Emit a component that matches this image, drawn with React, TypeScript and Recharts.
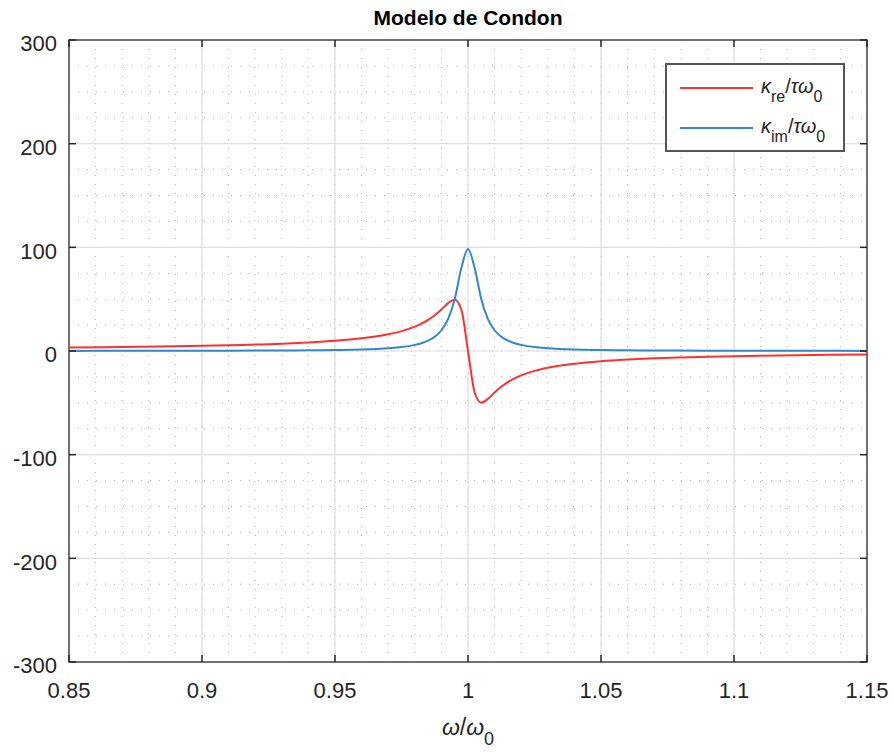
import React from 'react';
import { LineChart, Line, XAxis, YAxis, CartesianGrid, ReferenceArea } from 'recharts';

// frequencia normalizada w/w0
const omega = [
  0.85, 0.87, 0.89, 0.91, 0.93, 0.94, 0.95, 0.96, 0.97, 0.975, 0.98, 0.9825, 0.985, 0.9875, 0.99,
  0.9925, 0.995, 0.9975, 1.0, 1.0025, 1.005, 1.0075, 1.01, 1.0125, 1.015, 1.0175, 1.02, 1.025,
  1.03, 1.04, 1.05, 1.06, 1.07, 1.09, 1.11, 1.13, 1.15,
];
const kRe = [
  3.3, 3.8, 4.5, 5.5, 7.1, 8.3, 9.9, 12.3, 16.2, 19.2, 23.5, 26.4, 30, 34.5, 40,
  46.2, 49.5, 40, 0, -40, -49.8, -46.2, -40, -34.5, -30, -26.4, -23.5, -19.2,
  -16.2, -12.3, -9.9, -8.3, -7.1, -5.5, -4.5, -3.8, -3.3,
];
const kIm = [
  0.1, 0.15, 0.2, 0.3, 0.5, 0.7, 1.0, 1.5, 2.7, 3.8, 5.9, 7.5, 10, 13.8, 20,
  30.8, 50, 80, 98.5, 80, 50, 30.8, 20, 13.8, 10, 7.5, 5.9, 3.8,
  2.7, 1.5, 1.0, 0.7, 0.5, 0.3, 0.2, 0.15, 0.1,
];

const xTicks = [0.85, 0.9, 0.95, 1, 1.05, 1.1, 1.15];
const xTickLabels = ['0.85', '0.9', '0.95', '1', '1.05', '1.1', '1.15'];
const yTicks = [-300, -200, -100, 0, 100, 200, 300];

const W = 894;
const H = 753;
const LEFT = 69;
const RIGHT = 867;
const TOP = 40;
const BOTTOM = 662;
const FONT = '"Liberation Sans", Arial, Helvetica, sans-serif';
const TXT = '#262626';
const RED = '#ff3030';
const BLUE = '#3388cc';

const data = omega.map((w, i) => ({ w, re: kRe[i], im: kIm[i] }));

const xMinor: number[] = [];
for (let i = 0; i <= 30; i++) xMinor.push(Math.round((0.85 + i * 0.01) * 1000) / 1000);
const yMinor: number[] = [];
for (let v = -300; v <= 300; v += 25) yMinor.push(v);

const XTick = (props: any) => {
  const { x, payload } = props;
  const idx = xTicks.indexOf(payload.value);
  return (
    <g>
      <line x1={x} x2={x} y1={BOTTOM} y2={BOTTOM - 7} stroke={TXT} strokeWidth={1.5} />
      <line x1={x} x2={x} y1={TOP} y2={TOP + 7} stroke={TXT} strokeWidth={1.5} />
      <text x={x} y={BOTTOM + 20} dy="0.71em" textAnchor="middle" fill={TXT} fontSize={22} fontFamily={FONT}>
        {idx >= 0 ? xTickLabels[idx] : payload.value}
      </text>
    </g>
  );
};

const YTick = (props: any) => {
  const { y, payload } = props;
  return (
    <g>
      <line x1={LEFT} x2={LEFT + 7} y1={y} y2={y} stroke={TXT} strokeWidth={1.5} />
      <line x1={RIGHT} x2={RIGHT - 7} y1={y} y2={y} stroke={TXT} strokeWidth={1.5} />
      <text x={LEFT - 12} y={y} dy="0.52em" textAnchor="end" fill={TXT} fontSize={22} fontFamily={FONT}>
        {payload.value}
      </text>
    </g>
  );
};

const subStyle: React.CSSProperties = { fontSize: 16, verticalAlign: '-9px', lineHeight: 0 };

const LegendLabel = ({ sub }: { sub: string }) => (
  <span style={{ fontSize: 20, color: TXT, fontFamily: FONT, whiteSpace: 'nowrap', lineHeight: '22px' }}>
    <i>κ</i>
    <span style={subStyle}>{sub}</span>
    /<i>τω</i>
    <span style={subStyle}>0</span>
  </span>
);

export default function App() {
  return (
    <div style={{ position: 'absolute', left: 0, top: 0, width: W, height: H, background: '#fff' }}>
      <LineChart
        width={W}
        height={H}
        data={data}
        margin={{ top: TOP, right: W - RIGHT, left: 0, bottom: 0 }}
      >
        <CartesianGrid
          verticalValues={xMinor}
          horizontalValues={yMinor}
          stroke="#b0b0b0"
          strokeDasharray="1 8"
          strokeWidth={1}
        />
        <CartesianGrid
          verticalValues={xTicks}
          horizontalValues={yTicks}
          stroke="#dedede"
          strokeWidth={1.2}
        />
        <XAxis
          dataKey="w"
          type="number"
          domain={[0.85, 1.15]}
          ticks={xTicks}
          allowDataOverflow
          height={H - BOTTOM}
          axisLine={false}
          tickLine={false}
          tickSize={0}
          tick={<XTick />}
          interval={0}
        />
        <YAxis
          type="number"
          domain={[-300, 300]}
          ticks={yTicks}
          allowDataOverflow
          width={LEFT}
          axisLine={false}
          tickLine={false}
          tickSize={0}
          tick={<YTick />}
          interval={0}
        />
        <Line type="monotone" dataKey="re" stroke={RED} strokeWidth={2} dot={false} isAnimationActive={false} />
        <Line type="monotone" dataKey="im" stroke={BLUE} strokeWidth={2} dot={false} isAnimationActive={false} />
        <ReferenceArea
          x1={0.85}
          x2={1.15}
          y1={-300}
          y2={300}
          fill="none"
          fillOpacity={0}
          stroke="#4a4a4a"
          strokeWidth={1.5}
          ifOverflow="visible"
        />
      </LineChart>

      <div
        style={{
          position: 'absolute',
          left: LEFT,
          width: RIGHT - LEFT,
          top: 6,
          textAlign: 'center',
          fontFamily: FONT,
          fontWeight: 'bold',
          fontSize: 21,
          lineHeight: '24px',
          color: '#000',
        }}
      >
        Modelo de Condon
      </div>

      <div
        style={{
          position: 'absolute',
          left: LEFT,
          width: RIGHT - LEFT,
          top: 714,
          textAlign: 'center',
          fontFamily: FONT,
          fontSize: 23,
          lineHeight: '26px',
          color: TXT,
        }}
      >
        <i>ω</i>/<i>ω</i>
        <span style={{ fontSize: 18, verticalAlign: '-10px', lineHeight: 0 }}>0</span>
      </div>

      <div
        style={{
          position: 'absolute',
          left: 665,
          top: 63,
          width: 176,
          height: 85,
          border: '2px solid #555',
          background: '#fff',
          boxSizing: 'content-box',
        }}
      >
        <div style={{ position: 'absolute', left: 13, top: 22, width: 73, height: 2, background: RED }} />
        <div style={{ position: 'absolute', left: 94, top: 10 }}>
          <LegendLabel sub="re" />
        </div>
        <div style={{ position: 'absolute', left: 13, top: 62, width: 73, height: 2, background: BLUE }} />
        <div style={{ position: 'absolute', left: 94, top: 50 }}>
          <LegendLabel sub="im" />
        </div>
      </div>
    </div>
  );
}
